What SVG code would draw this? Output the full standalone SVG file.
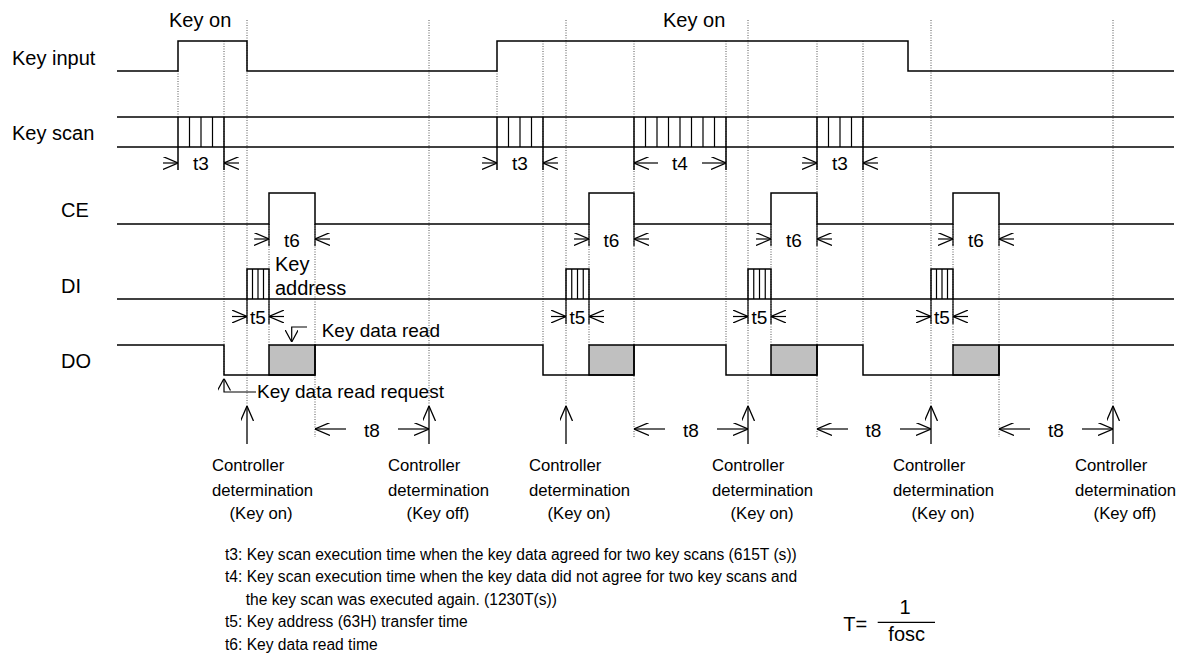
<svg xmlns="http://www.w3.org/2000/svg" width="1187" height="654" viewBox="0 0 1187 654">
<style>
text{font-family:"Liberation Sans",Arial,Helvetica,sans-serif;fill:#000}
.sig{fill:none;stroke:#000;stroke-width:1.5}
.cell{stroke:#000;stroke-width:1.2}
.dot{stroke:#555;stroke-width:1;stroke-dasharray:1 1.5;fill:none}
.dim{stroke:#000;stroke-width:1.2;fill:none;marker-end:url(#ah)}
.tick{stroke:#000;stroke-width:1.2}
.up{stroke:#000;stroke-width:1.3;fill:none;marker-end:url(#ahu)}
.call{stroke:#000;stroke-width:1.2;fill:none;marker-end:url(#ahs)}
.lbl{font-size:20px}
.t{font-size:19px;text-anchor:middle}
.cd{font-size:16.7px}
.cdm{font-size:16.7px;text-anchor:middle}
.fn{font-size:15.6px}
.gray{fill:#c0c0c0;stroke:#000;stroke-width:1.5}
</style>
<defs>
<marker id="ah" viewBox="0 0 15 13" refX="15" refY="6.5" markerWidth="15" markerHeight="13" markerUnits="userSpaceOnUse" orient="auto"><path d="M0,0 L15,6.5 L0,13" fill="none" stroke="#000" stroke-width="1.2"/></marker>
<marker id="ahu" viewBox="0 0 15 13" refX="15" refY="6.5" markerWidth="15" markerHeight="13" markerUnits="userSpaceOnUse" orient="auto"><path d="M0,0 L15,6.5 L0,13" fill="none" stroke="#000" stroke-width="1.3"/></marker>
<marker id="ahs" viewBox="0 0 12 13" refX="12" refY="6.5" markerWidth="12" markerHeight="13" markerUnits="userSpaceOnUse" orient="auto"><path d="M0,0 L12,6.5 L0,13" fill="none" stroke="#000" stroke-width="1.2"/></marker>
</defs>
<rect width="1187" height="654" fill="#fff"/>

<g id="guides">
<line class="dot" x1="178" y1="71" x2="178" y2="117"/>
<line class="dot" x1="224" y1="41" x2="224" y2="375"/>
<line class="dot" x1="247" y1="20" x2="247" y2="406"/>
<line class="dot" x1="269" y1="224" x2="269" y2="345"/>
<line class="dot" x1="315" y1="224" x2="315" y2="437"/>
<line class="dot" x1="429" y1="20" x2="429" y2="406"/>
<line class="dot" x1="497" y1="71" x2="497" y2="117"/>
<line class="dot" x1="543" y1="41" x2="543" y2="345"/>
<line class="dot" x1="566" y1="20" x2="566" y2="406"/>
<line class="dot" x1="589" y1="224" x2="589" y2="345"/>
<line class="dot" x1="634" y1="41" x2="634" y2="437"/>
<line class="dot" x1="726" y1="41" x2="726" y2="345"/>
<line class="dot" x1="748" y1="20" x2="748" y2="406"/>
<line class="dot" x1="771" y1="224" x2="771" y2="345"/>
<line class="dot" x1="817" y1="41" x2="817" y2="437"/>
<line class="dot" x1="863" y1="41" x2="863" y2="345"/>
<line class="dot" x1="931" y1="20" x2="931" y2="406"/>
<line class="dot" x1="953" y1="224" x2="953" y2="345"/>
<line class="dot" x1="999" y1="224" x2="999" y2="437"/>
<line class="dot" x1="1113" y1="20" x2="1113" y2="406"/>
</g>

<g id="key-input">
<text class="lbl" x="12" y="65">Key input</text>
<path class="sig" d="M117,71 H178 V41 H247 V71 H497 V41 H908 V71 H1174"/>
<text class="lbl" x="169" y="27">Key on</text>
<text class="lbl" x="663" y="27">Key on</text>
</g>

<g id="key-scan">
<text class="lbl" x="12" y="140">Key scan</text>
<line class="sig" x1="117" y1="117" x2="1174" y2="117"/>
<line class="sig" x1="117" y1="147" x2="1174" y2="147"/>
<path class="cell" d="M189.5,117V147M201,117V147M212.5,117V147M508.5,117V147M520,117V147M531.5,117V147M645.5,117V147M657,117V147M668.5,117V147M680,117V147M691.5,117V147M703,117V147M714.5,117V147M828.5,117V147M840,117V147M851.5,117V147"/>
<path class="sig" d="M178,117V170M224,117V170M497,117V170M543,117V170M634,117V170M726,117V170M817,117V170M863,117V170"/>
</g>

<g id="ce">
<text class="lbl" x="61" y="217">CE</text>
<path class="sig" d="M117,224 H269 V193 H315 V224 H589 V193 H634 V224 H771 V193 H817 V224 H953 V193 H999 V224 H1174"/>
<path class="tick" d="M269,224V246M315,224V246M589,224V246M634,224V246M771,224V246M817,224V246M953,224V246M999,224V246"/>
</g>

<g id="di">
<text class="lbl" x="61" y="293">DI</text>
<line class="sig" x1="117" y1="299" x2="1174" y2="299"/>
<path class="sig" d="M247,299V269H269V299M566,299V269H589V299M748,299V269H771V299M931,299V269H953V299"/>
<path class="cell" d="M252.5,269V299M258,269V299M263.5,269V299M571.75,269V299M577.5,269V299M583.25,269V299M753.75,269V299M759.5,269V299M765.25,269V299M936.5,269V299M942,269V299M947.5,269V299"/>
<path class="tick" d="M247,299V324M269,299V324M566,299V324M589,299V324M748,299V324M771,299V324M931,299V324M953,299V324"/>
<text class="lbl" x="275" y="270.5">Key</text>
<text class="lbl" x="275" y="295">address</text>
</g>

<g id="do">
<text class="lbl" x="61" y="368">DO</text>
<rect class="gray" x="269" y="345" width="46" height="30"/>
<rect class="gray" x="589" y="345" width="45" height="30"/>
<rect class="gray" x="771" y="345" width="46" height="30"/>
<rect class="gray" x="953" y="345" width="46" height="30"/>
<path class="sig" d="M117,345 H224 V375 H315 V345 H543 V375 H634 V345 H726 V375 H817 V345 H863 V375 H999 V345 H1174"/>
<text class="lbl" x="321.7" y="336.7" style="font-size:19px">Key data read</text>
<text class="lbl" x="257" y="398" style="font-size:19px">Key data read request</text>
</g>

<g id="connectors">
<line class="dim" x1="163" y1="163" x2="178" y2="163"/>
<line class="dim" x1="239" y1="163" x2="224" y2="163"/>
<line class="dim" x1="482" y1="163" x2="497" y2="163"/>
<line class="dim" x1="558" y1="163" x2="543" y2="163"/>
<line class="dim" x1="658" y1="163" x2="634" y2="163"/>
<line class="dim" x1="702" y1="163" x2="726" y2="163"/>
<line class="dim" x1="802" y1="163" x2="817" y2="163"/>
<line class="dim" x1="878" y1="163" x2="863" y2="163"/>

<line class="dim" x1="254" y1="239" x2="269" y2="239"/>
<line class="dim" x1="330" y1="239" x2="315" y2="239"/>
<line class="dim" x1="574" y1="239" x2="589" y2="239"/>
<line class="dim" x1="649" y1="239" x2="634" y2="239"/>
<line class="dim" x1="756" y1="239" x2="771" y2="239"/>
<line class="dim" x1="832" y1="239" x2="817" y2="239"/>
<line class="dim" x1="938" y1="239" x2="953" y2="239"/>
<line class="dim" x1="1014" y1="239" x2="999" y2="239"/>

<line class="dim" x1="232" y1="316.5" x2="247" y2="316.5"/>
<line class="dim" x1="284" y1="316.5" x2="269" y2="316.5"/>
<line class="dim" x1="551" y1="316.5" x2="566" y2="316.5"/>
<line class="dim" x1="604" y1="316.5" x2="589" y2="316.5"/>
<line class="dim" x1="733" y1="316.5" x2="748" y2="316.5"/>
<line class="dim" x1="786" y1="316.5" x2="771" y2="316.5"/>
<line class="dim" x1="916" y1="316.5" x2="931" y2="316.5"/>
<line class="dim" x1="968" y1="316.5" x2="953" y2="316.5"/>

<line class="dim" x1="346" y1="429" x2="315" y2="429"/>
<line class="dim" x1="398" y1="429" x2="429" y2="429"/>
<line class="dim" x1="665" y1="429" x2="634" y2="429"/>
<line class="dim" x1="717" y1="429" x2="748" y2="429"/>
<line class="dim" x1="848" y1="429" x2="817" y2="429"/>
<line class="dim" x1="900" y1="429" x2="931" y2="429"/>
<line class="dim" x1="1030" y1="429" x2="999" y2="429"/>
<line class="dim" x1="1082" y1="429" x2="1113" y2="429"/>

<line class="up" x1="247" y1="444" x2="247" y2="406"/>
<line class="up" x1="429" y1="444" x2="429" y2="406"/>
<line class="up" x1="566" y1="444" x2="566" y2="406"/>
<line class="up" x1="748" y1="444" x2="748" y2="406"/>
<line class="up" x1="931" y1="444" x2="931" y2="406"/>
<line class="up" x1="1113" y1="444" x2="1113" y2="406"/>

<path class="call" d="M256,392 H224 V378.5"/>
<path class="call" d="M307,327 H291.7 V342"/>
</g>

<g id="timing-labels">
<text class="t" x="201" y="170">t3</text>
<text class="t" x="520" y="170">t3</text>
<text class="t" x="680" y="170">t4</text>
<text class="t" x="840" y="170">t3</text>
<text class="t" x="292" y="246.5">t6</text>
<text class="t" x="611.5" y="246.5">t6</text>
<text class="t" x="794" y="246.5">t6</text>
<text class="t" x="976" y="246.5">t6</text>
<text class="t" x="258" y="324">t5</text>
<text class="t" x="577.5" y="324">t5</text>
<text class="t" x="759.5" y="324">t5</text>
<text class="t" x="942" y="324">t5</text>
<text class="t" x="372" y="437">t8</text>
<text class="t" x="691" y="437">t8</text>
<text class="t" x="873.5" y="437">t8</text>
<text class="t" x="1056" y="437">t8</text>
</g>

<g id="cd1"><text class="cd" x="212" y="471">Controller</text><text class="cd" x="212" y="495.5">determination</text><text class="cdm" x="261" y="519">(Key on)</text></g>
<g id="cd2"><text class="cd" x="388" y="471">Controller</text><text class="cd" x="388" y="495.5">determination</text><text class="cdm" x="438" y="519">(Key off)</text></g>
<g id="cd3"><text class="cd" x="529" y="471">Controller</text><text class="cd" x="529" y="495.5">determination</text><text class="cdm" x="579" y="519">(Key on)</text></g>
<g id="cd4"><text class="cd" x="712" y="471">Controller</text><text class="cd" x="712" y="495.5">determination</text><text class="cdm" x="762" y="519">(Key on)</text></g>
<g id="cd5"><text class="cd" x="893" y="471">Controller</text><text class="cd" x="893" y="495.5">determination</text><text class="cdm" x="943" y="519">(Key on)</text></g>
<g id="cd6"><text class="cd" x="1075" y="471">Controller</text><text class="cd" x="1075" y="495.5">determination</text><text class="cdm" x="1125" y="519">(Key off)</text></g>

<g id="notes">
<text class="fn" x="225" y="559.5">t3: Key scan execution time when the key data agreed for two key scans (615T (s))</text>
<text class="fn" x="225" y="582">t4: Key scan execution time when the key data did not agree for two key scans and</text>
<text class="fn" x="245.7" y="604.7">the key scan was executed again. (1230T(s))</text>
<text class="fn" x="225" y="627.3">t5: Key address (63H) transfer time</text>
<text class="fn" x="225" y="650">t6: Key data read time</text>
</g>

<g id="formula">
<text x="843.3" y="630.7" style="font-size:20px">T=</text>
<text x="905" y="614.3" style="font-size:20px;text-anchor:middle">1</text>
<line x1="877.7" y1="622.3" x2="935" y2="622.3" stroke="#000" stroke-width="1.3"/>
<text x="906.7" y="641" style="font-size:20px;text-anchor:middle">fosc</text>
</g>
</svg>
